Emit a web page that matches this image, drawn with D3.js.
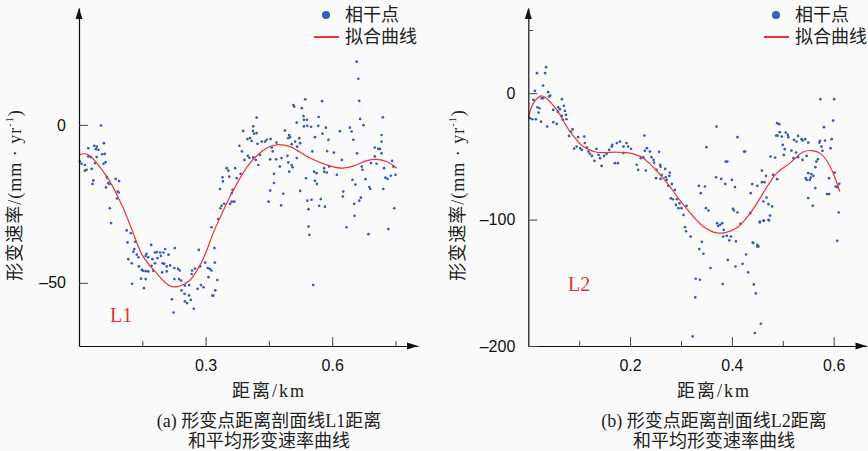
<!DOCTYPE html>
<html><head><meta charset="utf-8">
<script src="https://cdn.jsdelivr.net/npm/d3@7"></script>
<style>
body{margin:0;background:#fafafa;}
svg{display:block;}
</style></head>
<body>
<svg id="c" width="868" height="451"></svg>
<script>
// ---- data ----
const legendLabels = ["相干点", "拟合曲线"];
const yLabel = "形变速率/(mm · yr";
const xLabel = "距离/km";
const captionsA = ["(a) 形变点距离剖面线L1距离", "和平均形变速率曲线"];
const captionsB = ["(b) 形变点距离剖面线L2距离", "和平均形变速率曲线"];

const l1xTicks = [0.3, 0.6];
const l1xMinor = [0.15, 0.45, 0.75];
const l1yTicks = [0, -50];
const l2xTicks = [0.2, 0.4, 0.6];
const l2xMinor = [0.1, 0.3, 0.5];
const l2yTicks = [0, -100, -200];
const l2yMinor = [50];

const l1Points = [[0.052,-0.2],[0.022,-7.4],[0.036,-6.6],[0.042,-6.9],[0.046,-7.9],[0.059,-5.8],[0.040,-7.7],[0.055,-9.3],[0.061,-9.2],[0.022,-10.0],[0.028,-10.2],[0.042,-10.2],[0.006,-12.3],[0.002,-11.6],[0.014,-12.7],[0.018,-14.2],[0.014,-14.5],[0.030,-13.9],[0.038,-12.1],[0.063,-11.8],[0.058,-12.3],[0.034,-17.6],[0.032,-18.7],[0.066,-16.6],[0.087,-17.1],[0.095,-17.8],[0.069,-18.4],[0.072,-18.7],[0.064,-19.8],[0.092,-21.1],[0.094,-21.4],[0.090,-23.3],[0.073,-26.4],[0.076,-31.1],[0.113,-33.4],[0.123,-34.3],[0.115,-37.2],[0.133,-37.0],[0.131,-39.3],[0.129,-40.1],[0.137,-41.1],[0.141,-41.9],[0.117,-42.5],[0.125,-43.8],[0.142,-44.8],[0.149,-45.9],[0.152,-46.2],[0.160,-40.8],[0.158,-41.5],[0.171,-38.0],[0.164,-41.9],[0.180,-40.4],[0.184,-40.3],[0.192,-40.4],[0.200,-40.4],[0.204,-39.3],[0.194,-41.5],[0.186,-42.2],[0.174,-42.5],[0.180,-43.8],[0.172,-44.6],[0.164,-46.4],[0.158,-46.3],[0.198,-43.8],[0.202,-44.0],[0.208,-44.8],[0.212,-41.1],[0.227,-39.0],[0.216,-44.5],[0.226,-45.3],[0.197,-46.7],[0.208,-46.4],[0.176,-46.2],[0.147,-48.7],[0.158,-48.8],[0.126,-50.3],[0.154,-51.7],[0.235,-45.6],[0.239,-46.1],[0.226,-48.8],[0.237,-48.8],[0.242,-49.3],[0.251,-50.9],[0.261,-50.7],[0.268,-46.1],[0.275,-45.5],[0.267,-47.2],[0.243,-52.4],[0.250,-53.5],[0.261,-54.0],[0.265,-55.4],[0.251,-55.9],[0.256,-56.4],[0.272,-58.2],[0.220,-55.2],[0.224,-59.4],[0.281,-51.9],[0.289,-50.7],[0.295,-51.4],[0.284,-39.6],[0.287,-44.8],[0.299,-43.6],[0.305,-45.3],[0.310,-45.6],[0.314,-46.1],[0.322,-43.6],[0.328,-49.1],[0.316,-54.1],[0.318,-54.0],[0.314,-32.4],[0.330,-29.8],[0.321,-39.0],[0.338,-25.6],[0.335,-26.4],[0.344,-25.0],[0.358,-25.0],[0.362,-24.3],[0.307,-48.2],[0.323,-52.4],[0.368,-24.3],[0.362,-21.6],[0.364,-20.6],[0.334,-20.3],[0.341,-17.9],[0.340,-16.6],[0.350,-13.7],[0.354,-14.5],[0.356,-16.4],[0.370,-13.7],[0.374,-16.9],[0.383,-15.5],[0.392,-11.1],[0.400,-9.8],[0.404,-10.4],[0.386,-8.4],[0.380,-6.6],[0.399,-4.5],[0.405,-4.2],[0.389,-1.9],[0.412,-1.9],[0.413,-0.5],[0.421,2.3],[0.421,-2.6],[0.415,-2.8],[0.409,-5.1],[0.413,-10.3],[0.419,-11.1],[0.425,-12.7],[0.429,-9.5],[0.423,-6.0],[0.433,-5.3],[0.441,-5.3],[0.445,-4.7],[0.454,-4.5],[0.457,-7.2],[0.453,-10.9],[0.459,-8.4],[0.467,-10.9],[0.468,-5.6],[0.476,-13.2],[0.462,-15.5],[0.462,-18.4],[0.453,-20.8],[0.449,-24.3],[0.480,-10.5],[0.484,-21.8],[0.479,-25.5],[0.488,-1.8],[0.494,-9.8],[0.496,-4.2],[0.498,-3.2],[0.500,-3.9],[0.504,-6.1],[0.496,-11.9],[0.506,-13.4],[0.498,-14.8],[0.504,-12.7],[0.516,-10.5],[0.512,-5.3],[0.517,-6.9],[0.522,-4.2],[0.524,-5.8],[0.508,6.3],[0.510,5.8],[0.516,0.7],[0.528,5.3],[0.532,2.8],[0.536,8.1],[0.533,1.6],[0.540,1.6],[0.533,-0.5],[0.541,-0.3],[0.538,-16.9],[0.524,-20.9],[0.541,-24.0],[0.544,-26.7],[0.544,-32.2],[0.546,-34.8],[0.658,20.0],[0.662,14.6],[0.664,7.6],[0.576,7.5],[0.550,-0.6],[0.568,2.5],[0.567,-0.3],[0.585,-0.9],[0.559,-3.9],[0.577,-2.8],[0.591,-4.7],[0.553,-8.4],[0.588,-8.3],[0.604,-8.8],[0.618,-2.0],[0.642,-0.9],[0.646,-2.1],[0.650,-4.7],[0.666,1.9],[0.674,-0.1],[0.623,-11.1],[0.659,-9.0],[0.557,-14.8],[0.563,-15.3],[0.581,-13.7],[0.581,-14.8],[0.587,-15.1],[0.593,-13.2],[0.559,-17.7],[0.564,-18.7],[0.611,-15.8],[0.648,-17.4],[0.655,-18.9],[0.626,-21.1],[0.625,-22.7],[0.668,-23.0],[0.664,-24.0],[0.652,-25.0],[0.670,-13.2],[0.672,-14.2],[0.679,-17.2],[0.688,-19.7],[0.690,-20.3],[0.692,-12.1],[0.701,-10.0],[0.705,-12.3],[0.709,-7.6],[0.717,-9.0],[0.713,-7.6],[0.701,-7.2],[0.717,-3.2],[0.717,-5.3],[0.720,2.4],[0.723,-13.7],[0.726,-16.7],[0.731,-17.1],[0.721,-20.3],[0.739,-16.1],[0.742,-11.4],[0.750,-15.8],[0.745,-13.2],[0.551,-23.7],[0.573,-23.5],[0.569,-25.6],[0.583,-25.9],[0.653,-28.8],[0.634,-32.4],[0.686,-34.6],[0.733,-33.0],[0.747,-26.4],[0.555,-50.7]];

const l1Curve = [[0,-9.5],[0.02,-9.3],[0.066,-16.4],[0.10,-25],[0.125,-33],[0.149,-41],[0.180,-46.4],[0.220,-51.2],[0.259,-49.6],[0.291,-43.3],[0.322,-33],[0.366,-20.6],[0.405,-12.1],[0.444,-7.4],[0.468,-6.3],[0.500,-6.9],[0.547,-10.5],[0.590,-12.8],[0.625,-13.7],[0.657,-12.7],[0.682,-11.3],[0.706,-10.9],[0.729,-11.6],[0.753,-13.7]];

const l2Points = [[0.013,1.8],[0.017,15.8],[0.035,20.6],[0.033,15.8],[0.029,6.0],[0.010,-5.3],[0.003,-19.8],[0.008,-20.6],[0.015,-20.6],[0.018,-11.1],[0.022,-11.9],[0.020,-15.3],[0.025,-22.5],[0.026,-4.0],[0.029,-4.0],[0.039,0.8],[0.041,-2.7],[0.043,-1.9],[0.037,-26.4],[0.049,-22.9],[0.056,-24.3],[0.049,-13.2],[0.058,-14.6],[0.059,-11.1],[0.066,-4.7],[0.062,-12.7],[0.070,-10.0],[0.072,-14.0],[0.074,-17.2],[0.066,-18.0],[0.075,-20.6],[0.068,-21.1],[0.087,-28.5],[0.084,-30.4],[0.080,-33.8],[0.098,-34.8],[0.090,-43.8],[0.095,-42.2],[0.102,-43.5],[0.105,-44.8],[0.110,-34.3],[0.111,-39.5],[0.115,-43.0],[0.118,-46.2],[0.121,-48.0],[0.125,-49.6],[0.130,-53.5],[0.134,-44.0],[0.138,-48.8],[0.141,-51.4],[0.144,-57.5],[0.149,-49.6],[0.154,-48.0],[0.159,-44.8],[0.164,-42.2],[0.165,-40.9],[0.170,-55.4],[0.176,-55.4],[0.180,-38.3],[0.187,-42.2],[0.193,-39.5],[0.196,-42.2],[0.202,-44.0],[0.187,-47.4],[0.213,-56.7],[0.216,-60.6],[0.221,-51.4],[0.226,-50.6],[0.228,-33.5],[0.233,-43.5],[0.239,-46.2],[0.242,-50.6],[0.246,-52.8],[0.252,-60.6],[0.259,-56.7],[0.262,-64.6],[0.174,-39.5],[0.229,-45.6],[0.257,-46.4],[0.247,-54.9],[0.260,-58.1],[0.269,-59.9],[0.278,-62.8],[0.231,-61.2],[0.251,-67.2],[0.260,-67.8],[0.270,-66.5],[0.272,-68.6],[0.277,-65.4],[0.282,-71.8],[0.275,-73.3],[0.288,-76.5],[0.280,-83.1],[0.284,-83.9],[0.292,-83.9],[0.290,-88.4],[0.297,-87.0],[0.295,-91.0],[0.301,-91.0],[0.311,-89.2],[0.305,-96.3],[0.308,-106.0],[0.310,-109.2],[0.319,-113.4],[0.335,-73.3],[0.339,-79.1],[0.347,-73.8],[0.350,-42.7],[0.370,-26.4],[0.349,-91.0],[0.354,-92.8],[0.379,-67.8],[0.369,-66.5],[0.388,-54.1],[0.391,-54.1],[0.387,-71.8],[0.400,-68.6],[0.406,-74.3],[0.402,-91.5],[0.404,-92.8],[0.411,-94.4],[0.411,-34.8],[0.424,-46.2],[0.426,-46.2],[0.437,-79.1],[0.440,-71.9],[0.371,-102.8],[0.377,-104.1],[0.381,-102.8],[0.373,-104.9],[0.384,-108.1],[0.390,-112.8],[0.398,-113.4],[0.395,-116.5],[0.408,-117.3],[0.417,-103.3],[0.341,-117.6],[0.336,-123.3],[0.344,-127.0],[0.358,-138.3],[0.392,-131.9],[0.407,-137.1],[0.421,-135.0],[0.432,-141.8],[0.442,-118.6],[0.428,-127.6],[0.329,-146.8],[0.337,-147.6],[0.382,-151.0],[0.443,-151.3],[0.447,-158.4],[0.328,-161.6],[0.323,-192.4],[0.445,-189.7],[0.450,-119.9],[0.457,-182.4],[0.607,-116.8],[0.452,-121.2],[0.455,-102.3],[0.462,-101.0],[0.472,-100.2],[0.383,-113.4],[0.574,-4.7],[0.601,-4.7],[0.599,-21.7],[0.581,-26.9],[0.489,-23.7],[0.493,-24.5],[0.494,-30.8],[0.506,-31.1],[0.510,-33.0],[0.487,-33.5],[0.490,-33.5],[0.498,-34.3],[0.511,-34.8],[0.522,-36.9],[0.530,-33.8],[0.537,-36.4],[0.539,-37.5],[0.527,-38.3],[0.550,-39.1],[0.544,-36.4],[0.500,-40.9],[0.504,-44.3],[0.517,-45.4],[0.526,-47.0],[0.502,-48.8],[0.521,-51.4],[0.530,-50.6],[0.539,-52.8],[0.547,-49.6],[0.573,-37.7],[0.572,-39.1],[0.583,-37.5],[0.596,-36.4],[0.576,-42.2],[0.578,-45.6],[0.594,-43.5],[0.569,-52.2],[0.566,-54.1],[0.564,-58.5],[0.556,-64.0],[0.560,-65.4],[0.555,-66.8],[0.553,-68.6],[0.545,-67.2],[0.547,-68.6],[0.550,-63.2],[0.564,-75.1],[0.591,-67.2],[0.602,-62.8],[0.604,-73.8],[0.607,-74.3],[0.611,-71.7],[0.591,-79.8],[0.587,-79.8],[0.550,-83.0],[0.559,-89.1],[0.610,-94.4],[0.476,-50.1],[0.485,-50.9],[0.459,-61.2],[0.467,-65.4],[0.481,-64.6],[0.489,-68.0],[0.464,-70.4],[0.459,-70.4],[0.450,-73.3],[0.468,-82.5],[0.462,-85.7],[0.472,-87.8],[0.479,-89.6],[0.436,-94.9],[0.475,-96.8],[0.463,-100.7],[0.455,-101.5],[0.473,-100.7],[0.441,-118.1],[0.450,-121.2]];

const l2Curve = [[0,-19.8],[0.010,-7.9],[0.025,-2.1],[0.033,-3.2],[0.056,-13.2],[0.082,-30.4],[0.108,-42.2],[0.134,-46.7],[0.174,-46.7],[0.200,-47.4],[0.226,-51.4],[0.265,-67.2],[0.305,-88.3],[0.344,-105.5],[0.372,-110.7],[0.409,-106.7],[0.436,-94.9],[0.488,-63.3],[0.514,-55.3],[0.540,-46.5],[0.557,-45.4],[0.575,-48],[0.593,-58],[0.612,-77.8]];

// ---- drawing ----
const svg = d3.select("#c");
svg.append("rect").attr("width",868).attr("height",451).attr("fill","#fafafa");
const CJK = "'Liberation Serif','Noto Sans CJK SC',serif";
const SANS = "'Liberation Sans',Arial,sans-serif";
const BLUE = "#3a5cb4", RED = "#e8352f";

function panel(o){
  const g = svg.append("g");
  const x = d3.scaleLinear().domain(o.xDom).range(o.xRange);
  const y = d3.scaleLinear().domain(o.yDom).range(o.yRange);
  const x0 = o.xRange[0], yb = o.yRange[0];

  g.append("g").selectAll("circle").data(o.points).join("circle")
    .attr("cx", d=>x(d[0])).attr("cy", d=>y(d[1])).attr("r",1.35).attr("fill",BLUE);
  g.append("path").datum(o.curve)
    .attr("d", d3.line().x(d=>x(d[0])).y(d=>y(d[1])).curve(d3.curveCatmullRom.alpha(0.5)))
    .attr("fill","none").attr("stroke",RED).attr("stroke-width",1.2);

  g.append("g").attr("transform",`translate(0,${yb})`)
    .call(d3.axisBottom(x).tickValues(o.xTicks).tickSize(-9).tickSizeOuter(0).tickPadding(14).tickFormat(d3.format(".1f")));
  g.append("g").attr("transform",`translate(0,${yb})`)
    .call(d3.axisBottom(x).tickValues(o.xMinor).tickSize(-5).tickSizeOuter(0).tickFormat(""))
    .select(".domain").remove();
  g.append("g").attr("transform",`translate(${x0},0)`)
    .call(d3.axisLeft(y).tickValues(o.yTicks).tickSize(-9).tickSizeOuter(0).tickPadding(13)
      .tickFormat(d=> d<0 ? "\u2013"+Math.abs(d) : d));
  if (o.yMinor) g.append("g").attr("transform",`translate(${x0},0)`)
    .call(d3.axisLeft(y).tickValues(o.yMinor).tickSize(-5).tickSizeOuter(0).tickFormat(""))
    .select(".domain").remove();
  g.selectAll(".domain").attr("stroke","#111").attr("stroke-width",1.2);
  g.selectAll(".tick line").attr("stroke","#444").attr("stroke-width",1);
  g.selectAll(".tick text").attr("font-family",SANS).attr("font-size",16).attr("fill","#111");
  const xe = o.xRange[1], ye = o.yRange[1];
  g.append("path").attr("d",`M${xe},${yb} L${xe-11},${yb-3.5} L${xe-11},${yb+3.5}Z`).attr("fill","#111");
  g.append("path").attr("d",`M${x0},${ye} L${x0-3.5},${ye+11} L${x0+3.5},${ye+11}Z`).attr("fill","#111");

  const yl = g.append("text").attr("transform",`translate(${o.yLabX},${o.yLabY}) rotate(-90)`)
    .attr("text-anchor","middle").attr("font-family",CJK).attr("font-size",18).attr("letter-spacing",1).attr("fill","#222");
  yl.append("tspan").text(yLabel);
  yl.append("tspan").attr("font-size",10).attr("dy",-8).text("-1");
  yl.append("tspan").attr("dy",8).text(")");
  g.append("text").attr("x",o.xLabX).attr("y",397).attr("text-anchor","middle")
    .attr("font-family",CJK).attr("font-size",18).attr("letter-spacing",2).attr("fill","#222").text(xLabel);
  o.caps.forEach((c,i)=>g.append("text").attr("x",o.xLabX).attr("y",427+i*20).attr("text-anchor","middle")
    .attr("font-family",CJK).attr("font-size",18).attr("fill","#222").text(c));
  g.append("text").attr("x",o.lx).attr("y",o.ly).attr("font-family","'Liberation Serif',serif")
    .attr("font-size",20).attr("fill",RED).text(o.name);
  g.append("circle").attr("cx",o.legX+12).attr("cy",15).attr("r",4).attr("fill",BLUE);
  g.append("line").attr("x1",o.legX).attr("x2",o.legX+25).attr("y1",37).attr("y2",37).attr("stroke",RED).attr("stroke-width",2);
  legendLabels.forEach((t,i)=>g.append("text").attr("x",o.legX+31).attr("y",21+i*22)
    .attr("font-family",CJK).attr("font-size",18).attr("fill","#222").text(t));
}

panel({points:l1Points, curve:l1Curve, xDom:[0,0.8033], xRange:[79,418], yDom:[-70,37], yRange:[346,8],
  xTicks:l1xTicks, xMinor:l1xMinor, yTicks:l1yTicks, yLabX:21, yLabY:195, xLabX:269, caps:captionsA,
  lx:110, ly:322, name:"L1", legX:314});
panel({points:l2Points, curve:l2Curve, xDom:[0,0.6645], xRange:[528.3,866.5], yDom:[-200,67.4], yRange:[346,8],
  xTicks:l2xTicks, xMinor:l2xMinor, yTicks:l2yTicks, yMinor:l2yMinor, yLabX:464, yLabY:195, xLabX:714, caps:captionsB,
  lx:568, ly:291, name:"L2", legX:764});
</script>
</body></html>
